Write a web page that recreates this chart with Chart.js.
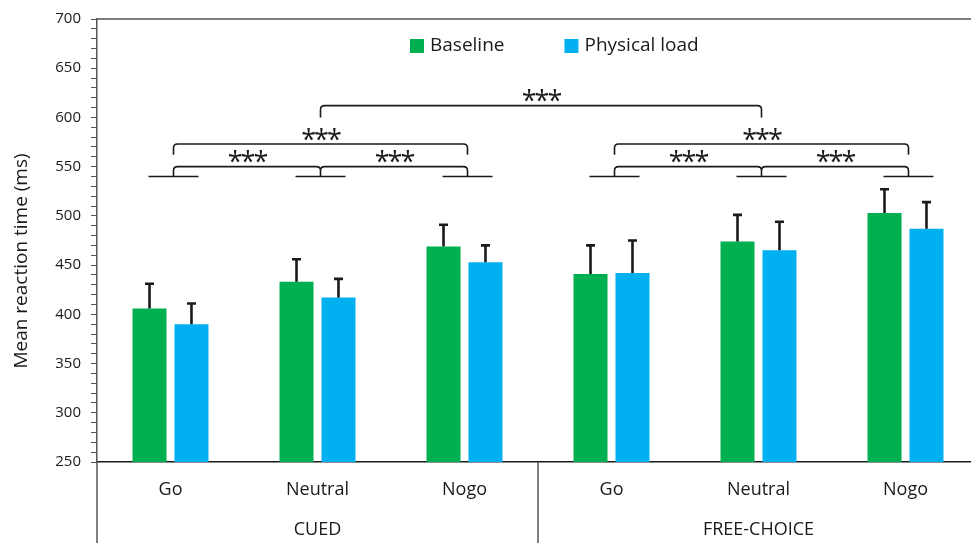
<!DOCTYPE html>
<html>
<head>
<meta charset="utf-8">
<script src="https://cdn.jsdelivr.net/npm/chart.js@4.4.0/dist/chart.umd.min.js"></script>
<style>
  html, body { margin: 0; padding: 0; overflow: hidden; background: #fff; }
  #wrap { width: 982px; height: 543px; }
</style>
</head>
<body>
<div id="wrap"><canvas id="chart"></canvas></div>
<script>
// conditions along the x axis, grouped in two blocks of three
const conditions = ["Go", "Neutral", "Nogo", "Go", "Neutral", "Nogo"];
const blocks = ["CUED", "FREE-CHOICE"];
const seriesNames = ["Baseline", "Physical load"];

// mean reaction time (ms) and upper error (ms)
const baseline = [406, 433, 469, 441, 474, 503];
const physicalLoad = [390, 417, 453, 442, 465, 487];
const baselineErr = [25, 23, 22, 29, 27, 24];
const physicalLoadErr = [21, 19, 17, 33, 29, 27];

// significance brackets: from / to condition index, bar level, end level (ms)
const sigFrom = [0, 1, 0, 3, 4, 3, 1];
const sigTo = [1, 2, 2, 4, 5, 5, 4];
const sigLevel = [550, 550, 573, 550, 550, 573, 612];
const sigEnd = [540, 540, 562, 540, 540, 562, 600];
const sigText = ["***", "***", "***", "***", "***", "***", "***"];
const sigBase = 540;

const yTicks = [250, 300, 350, 400, 450, 500, 550, 600, 650, 700];

const GREEN = "#00B050";
const BLUE = "#00B0F0";
const INK = "#1a1a1a";
const AXIS = "#555555";
const FONT = '"Open Sans", sans-serif';

const extras = {
  id: "extras",
  afterDatasetsDraw(chart) {
    const ctx = chart.ctx;
    const y = chart.scales.y;
    const errs = [baselineErr, physicalLoadErr];
    ctx.save();
    ctx.strokeStyle = INK;
    ctx.lineWidth = 2.6;
    chart.data.datasets.forEach((ds, i) => {
      chart.getDatasetMeta(i).data.forEach((bar, j) => {
        const top = y.getPixelForValue(ds.data[j] + errs[i][j]);
        ctx.beginPath();
        ctx.moveTo(bar.x, bar.y);
        ctx.lineTo(bar.x, top);
        ctx.moveTo(bar.x - 4.5, top);
        ctx.lineTo(bar.x + 4.5, top);
        ctx.stroke();
      });
    });
    ctx.restore();
  },
  afterDraw(chart) {
    const ctx = chart.ctx;
    const area = chart.chartArea;
    const x = chart.scales.x;
    const y = chart.scales.y;
    const H = chart.height;
    ctx.save();

    // frame top and block separators below the axis
    ctx.strokeStyle = AXIS;
    ctx.lineWidth = 1.5;
    ctx.beginPath();
    ctx.moveTo(area.left, area.top);
    ctx.lineTo(area.right, area.top);
    const mid = (x.getPixelForValue(2) + x.getPixelForValue(3)) / 2;
    [area.left, mid, area.right].forEach(px => {
      ctx.moveTo(px, area.bottom);
      ctx.lineTo(px, H);
    });
    ctx.stroke();

    // block labels
    ctx.fillStyle = INK;
    ctx.font = "18px " + FONT;
    ctx.textAlign = "center";
    ctx.textBaseline = "middle";
    blocks.forEach((b, k) => {
      const cx = (x.getPixelForValue(k * 3) + x.getPixelForValue(k * 3 + 2)) / 2;
      ctx.fillText(b, cx, 530);
    });

    // y axis title
    ctx.save();
    ctx.translate(22, 261);
    ctx.rotate(-Math.PI / 2);
    ctx.font = "19px " + FONT;
    ctx.fillText("Mean reaction time (ms)", 0, 0);
    ctx.restore();

    // significance markers
    const px = i => x.getPixelForValue(i) + 3;
    ctx.strokeStyle = INK;
    ctx.lineWidth = 1.6;
    ctx.beginPath();
    const yb = y.getPixelForValue(sigBase);
    conditions.forEach((c, i) => {
      ctx.moveTo(px(i) - 25, yb);
      ctx.lineTo(px(i) + 25, yb);
    });
    const r = 4;
    sigFrom.forEach((f, k) => {
      const x1 = px(f), x2 = px(sigTo[k]);
      const yt = y.getPixelForValue(sigLevel[k]);
      const ye = y.getPixelForValue(sigEnd[k]);
      ctx.moveTo(x1, ye);
      ctx.lineTo(x1, yt + r);
      ctx.quadraticCurveTo(x1, yt, x1 + r, yt);
      ctx.lineTo(x2 - r, yt);
      ctx.quadraticCurveTo(x2, yt, x2, yt + r);
      ctx.lineTo(x2, ye);
    });
    ctx.stroke();

    ctx.font = "27px " + FONT;
    ctx.letterSpacing = "-2px";
    ctx.textBaseline = "alphabetic";
    sigFrom.forEach((f, k) => {
      const cx = (px(f) + px(sigTo[k])) / 2;
      const cy = y.getPixelForValue(sigLevel[k]) - 10;
      const m = ctx.measureText(sigText[k]);
      const off = (m.actualBoundingBoxAscent - m.actualBoundingBoxDescent) / 2;
      ctx.fillText(sigText[k], cx, cy + off);
    });
    ctx.letterSpacing = "0px";

    // legend
    ctx.font = "19px " + FONT;
    ctx.textAlign = "left";
    ctx.textBaseline = "middle";
    let lx = 410;
    const ly = 46;
    chart.data.datasets.forEach(ds => {
      ctx.fillStyle = ds.backgroundColor;
      ctx.fillRect(lx, ly - 7, 14, 14);
      ctx.fillStyle = INK;
      ctx.fillText(ds.label, lx + 20, ly);
      lx += 20 + ctx.measureText(ds.label).width + 60;
    });

    ctx.restore();
  }
};

new Chart(document.getElementById("chart"), {
  type: "bar",
  data: {
    labels: conditions,
    datasets: [
      { label: seriesNames[0], data: baseline, backgroundColor: GREEN },
      { label: seriesNames[1], data: physicalLoad, backgroundColor: BLUE }
    ]
  },
  options: {
    responsive: true,
    maintainAspectRatio: false,
    animation: false,
    categoryPercentage: 0.571,
    barPercentage: 0.81,
    layout: { padding: { top: 19, right: 3, left: 0, bottom: 0 } },
    plugins: {
      legend: { display: false },
      tooltip: { enabled: false }
    },
    scales: {
      x: {
        grid: { display: false, drawTicks: false },
        border: { color: INK, width: 1.5 },
        ticks: { color: INK, padding: 17, font: { family: FONT, size: 18 } },
        afterFit: s => { s.height = 81; }
      },
      y: {
        min: 250,
        max: 700,
        ticks: {
          stepSize: 10,
          autoSkip: false,
          maxTicksLimit: 100,
          padding: 10,
          color: INK,
          font: { family: FONT, size: 15 },
          callback: v => (yTicks.includes(v) ? v : "")
        },
        grid: { drawOnChartArea: false, drawTicks: true, tickLength: 6, color: AXIS, lineWidth: 1 },
        border: { color: AXIS, width: 1.5 },
        afterFit: s => { s.width = 97; }
      }
    }
  },
  plugins: [extras]
});
</script>
</body>
</html>
